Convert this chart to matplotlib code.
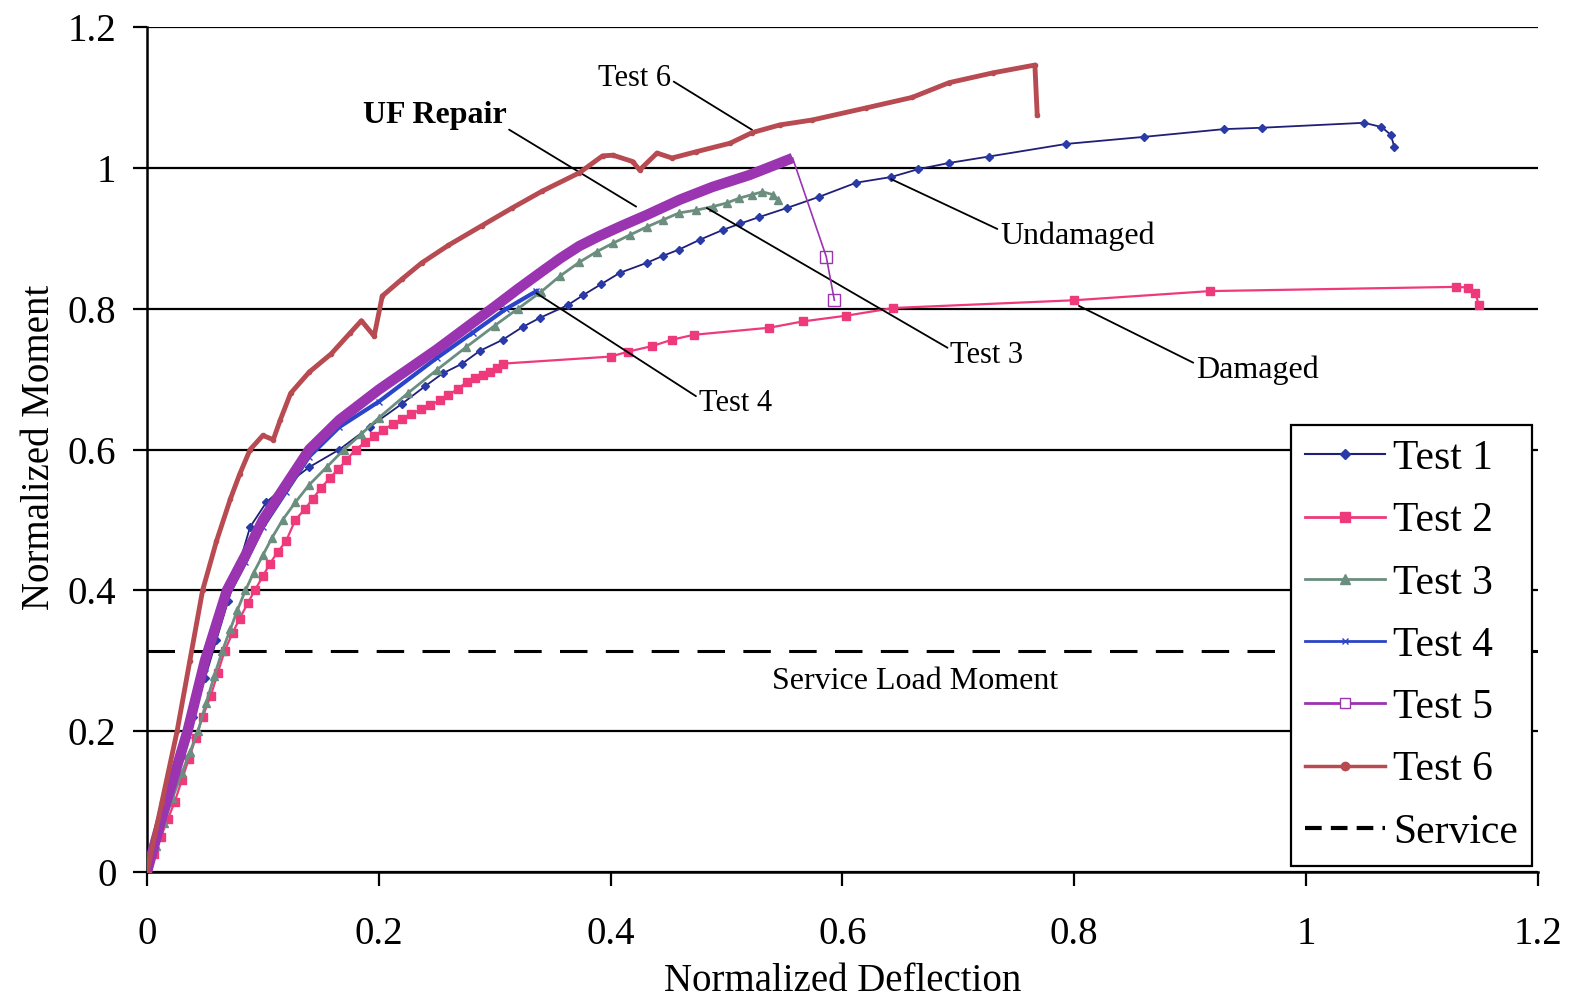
import matplotlib
matplotlib.use('Agg')
import matplotlib.pyplot as plt
from matplotlib.lines import Line2D

plt.rcParams['font.family'] = ['Liberation Serif', 'DejaVu Serif']

# test data (normalized deflection, normalized moment)
test1_x = [0, 0.01, 0.02, 0.03, 0.04, 0.05, 0.06, 0.07, 0.08, 0.089, 0.103, 0.12, 0.14, 0.166,
           0.192, 0.22, 0.24, 0.255, 0.272, 0.287, 0.307, 0.324, 0.339, 0.363, 0.376, 0.392,
           0.408, 0.431, 0.445, 0.459, 0.477, 0.497, 0.512, 0.528, 0.552, 0.58, 0.612, 0.642,
           0.665, 0.692, 0.726, 0.793, 0.86, 0.929, 0.962, 1.05, 1.065, 1.073, 1.076]
test1_y = [0, 0.055, 0.11, 0.165, 0.22, 0.275, 0.33, 0.385, 0.44, 0.49, 0.525, 0.55, 0.575, 0.6,
           0.632, 0.665, 0.69, 0.708, 0.722, 0.74, 0.756, 0.774, 0.787, 0.805, 0.819, 0.835,
           0.851, 0.865, 0.875, 0.884, 0.898, 0.912, 0.921, 0.93, 0.943, 0.959, 0.979, 0.987,
           0.998, 1.007, 1.016, 1.034, 1.044, 1.055, 1.057, 1.064, 1.058, 1.047, 1.03]

test2_x = [0, 0.006, 0.012, 0.018, 0.024, 0.03, 0.036, 0.042, 0.048, 0.055, 0.061, 0.067, 0.074,
           0.08, 0.087, 0.093, 0.1, 0.106, 0.113, 0.12, 0.128, 0.136, 0.143, 0.15, 0.158, 0.165,
           0.172, 0.18, 0.188, 0.196, 0.204, 0.212, 0.22, 0.228, 0.236, 0.244, 0.253, 0.26, 0.268,
           0.276, 0.283, 0.29, 0.296, 0.302, 0.307, 0.4, 0.415, 0.436, 0.453, 0.472, 0.537, 0.566,
           0.603, 0.644, 0.8, 0.917, 1.129, 1.14, 1.146, 1.149]
test2_y = [0, 0.025, 0.05, 0.075, 0.1, 0.13, 0.16, 0.19, 0.22, 0.25, 0.282, 0.314, 0.34,
           0.36, 0.382, 0.4, 0.42, 0.438, 0.455, 0.47, 0.5, 0.515, 0.53, 0.545, 0.56, 0.572,
           0.585, 0.6, 0.61, 0.619, 0.628, 0.636, 0.643, 0.65, 0.657, 0.663, 0.67, 0.677, 0.686,
           0.696, 0.702, 0.706, 0.71, 0.716, 0.722, 0.732, 0.739, 0.747, 0.756, 0.763, 0.773, 0.782,
           0.79, 0.801, 0.812, 0.825, 0.831, 0.83, 0.822, 0.805]

test3_x = [0, 0.008, 0.015, 0.022, 0.03, 0.037, 0.044, 0.051, 0.058, 0.065, 0.072, 0.078, 0.085,
           0.092, 0.1, 0.108, 0.117, 0.128, 0.14, 0.155, 0.17, 0.185, 0.2, 0.225, 0.25, 0.275,
           0.3, 0.32, 0.34, 0.356, 0.373, 0.388, 0.402, 0.417, 0.431, 0.445, 0.459, 0.474, 0.488,
           0.5, 0.511, 0.522, 0.531, 0.54, 0.544]
test3_y = [0, 0.037, 0.07, 0.105, 0.14, 0.17, 0.2, 0.24, 0.278, 0.314, 0.345, 0.372, 0.4,
           0.425, 0.45, 0.475, 0.5, 0.525, 0.55, 0.575, 0.6, 0.622, 0.645, 0.68, 0.713, 0.745,
           0.776, 0.8, 0.824, 0.846, 0.866, 0.881, 0.893, 0.905, 0.916, 0.926, 0.936, 0.94, 0.945,
           0.95, 0.957, 0.962, 0.966, 0.962, 0.955]

test4_x = [0, 0.015, 0.035, 0.05, 0.069, 0.085, 0.1, 0.12, 0.14, 0.166, 0.2, 0.25, 0.281, 0.31, 0.336]
test4_y = [0, 0.085, 0.195, 0.29, 0.39, 0.44, 0.49, 0.54, 0.59, 0.632, 0.668, 0.73, 0.766, 0.8, 0.825]

test5_x = [0, 0.015, 0.035, 0.05, 0.069, 0.085, 0.1, 0.12, 0.14, 0.166, 0.2, 0.25, 0.281,
           0.3, 0.32, 0.34, 0.357, 0.373, 0.39, 0.41, 0.431, 0.46, 0.488, 0.52, 0.557, 0.586, 0.593]
test5_y = [0, 0.09, 0.2, 0.3, 0.4, 0.45, 0.5, 0.55, 0.6, 0.642, 0.685, 0.742, 0.78,
           0.803, 0.828, 0.852, 0.872, 0.889, 0.903, 0.918, 0.933, 0.955, 0.973, 0.99, 1.014, 0.874, 0.812]

test6_x = [0, 0.013, 0.026, 0.037, 0.048, 0.06, 0.072, 0.08, 0.089, 0.1, 0.109, 0.115, 0.124,
           0.14, 0.159, 0.175, 0.185, 0.196, 0.203, 0.22, 0.237, 0.26, 0.289, 0.315, 0.341, 0.373,
           0.393, 0.402, 0.419, 0.425, 0.44, 0.453, 0.474, 0.503, 0.522, 0.546, 0.574, 0.62, 0.66,
           0.692, 0.73, 0.766, 0.768]
test6_y = [0, 0.1, 0.2, 0.3, 0.4, 0.47, 0.53, 0.565, 0.6, 0.62, 0.614, 0.642, 0.68,
           0.71, 0.736, 0.765, 0.783, 0.761, 0.818, 0.842, 0.865, 0.89, 0.918, 0.943, 0.967, 0.993,
           1.017, 1.018, 1.009, 0.997, 1.021, 1.014, 1.023, 1.035, 1.05, 1.061, 1.068, 1.085, 1.1,
           1.121, 1.135, 1.146, 1.075]

service_moment = 0.314

labels = ['Test 1', 'Test 2', 'Test 3', 'Test 4', 'Test 5', 'Test 6', 'Service']

c1_line, c1_mark = '#1f1f78', '#2a3ba8'
c2 = '#ee3a7b'
c3 = '#6b8e7f'
c4 = '#2b45c8'
c5 = '#9a34b0'
c6 = '#b84a52'

fig = plt.figure(figsize=(15.75, 10.05), dpi=100)
ax = fig.add_axes([0.0933, 0.1323, 0.8832, 0.8408])

ax.axhline(service_moment, color='black', lw=2.2, dashes=(9, 6), zorder=1)

ax.plot(test1_x, test1_y, color=c1_line, lw=1.3, marker='D', ms=4.5,
        mfc=c1_mark, mec=c1_mark, zorder=3)
ax.plot(test2_x, test2_y, color=c2, lw=1.6, marker='s', ms=6,
        mfc=c2, mec=c2, zorder=3)
ax.plot(test3_x, test3_y, color=c3, lw=2, marker='^', ms=6,
        mfc=c3, mec=c3, zorder=3)
ax.plot(test4_x, test4_y, color=c4, lw=3, marker='x', ms=4, zorder=3)
ax.plot(test5_x[:-2], test5_y[:-2], color=c5, lw=7.5, solid_capstyle='butt',
        solid_joinstyle='round', zorder=4)
ax.plot(test5_x[-3:], test5_y[-3:], color=c5, lw=1.2, marker='s', ms=8,
        mfc='none', mec=c5, markevery=[1, 2], zorder=4)
ax.plot(test6_x, test6_y, color=c6, lw=3.5, marker='o', ms=3, mfc=c6, mec=c6, zorder=5)

ax.set_xlim(0, 1.2)
ax.set_ylim(0, 1.2)
ax.set_xticks([0, 0.2, 0.4, 0.6, 0.8, 1, 1.2])
ax.set_yticks([0, 0.2, 0.4, 0.6, 0.8, 1, 1.2])
ax.set_xticklabels(['0', '0.2', '0.4', '0.6', '0.8', '1', '1.2'])
ax.set_yticklabels(['0', '0.2', '0.4', '0.6', '0.8', '1', '1.2'])
ax.tick_params(axis='both', direction='out', length=10, width=1.6, labelsize=28, color='black')
ax.tick_params(axis='x', pad=22)
ax.tick_params(axis='y', pad=12)
ax.yaxis.grid(True, color='black', lw=1.6)
ax.set_axisbelow(True)
for side in ['top', 'right']:
    ax.spines[side].set_visible(False)
for side in ['left', 'bottom']:
    ax.spines[side].set_linewidth(1.8)

ax.set_xlabel('Normalized Deflection', fontsize=28)
ax.set_ylabel('Normalized Moment', fontsize=28)
ax.xaxis.set_label_coords(0.5, -0.108)
ax.yaxis.set_label_coords(-0.064, 0.503)

# callouts
lead = dict(arrowstyle='-', color='black', lw=1.3, shrinkA=0, shrinkB=0)
ax.annotate('Test 6', xy=(0.522, 1.054), xytext=(0.452, 1.127), fontsize=22,
            ha='right', va='center', arrowprops=dict(lead, relpos=(1, 0.45)))
ax.annotate('UF Repair', xy=(0.422, 0.945), xytext=(0.248, 1.074), fontsize=23,
            fontweight='bold', ha='center', va='center',
            arrowprops=dict(lead, relpos=(0.96, 0.2)))
ax.annotate('Test 3', xy=(0.483, 0.943), xytext=(0.693, 0.734), fontsize=22,
            ha='left', va='center', arrowprops=dict(lead, relpos=(0, 0.7)))
ax.annotate('Test 4', xy=(0.336, 0.822), xytext=(0.476, 0.665), fontsize=22,
            ha='left', va='center', arrowprops=dict(lead, relpos=(0, 0.7)))
ax.annotate('Undamaged', xy=(0.642, 0.984), xytext=(0.736, 0.903), fontsize=23,
            ha='left', va='center', arrowprops=dict(lead, relpos=(0, 0.7)))
ax.annotate('Damaged', xy=(0.804, 0.804), xytext=(0.905, 0.713), fontsize=23,
            ha='left', va='center', arrowprops=dict(lead, relpos=(0, 0.7)))
ax.text(0.663, 0.271, 'Service Load Moment', fontsize=23, ha='center', va='center')

handles = [
    Line2D([], [], color=c1_line, lw=1.5, marker='D', ms=5, mfc=c1_mark, mec=c1_mark),
    Line2D([], [], color=c2, lw=2, marker='s', ms=7, mfc=c2, mec=c2),
    Line2D([], [], color=c3, lw=2, marker='^', ms=7, mfc=c3, mec=c3),
    Line2D([], [], color=c4, lw=2, marker='x', ms=4, mec=c4),
    Line2D([], [], color=c5, lw=2, marker='s', ms=7, mfc='white', mec=c5),
    Line2D([], [], color=c6, lw=2.5, marker='o', ms=6, mfc=c6, mec=c6),
    Line2D([], [], color='black', lw=3, dashes=(4, 2.2)),
]
leg = ax.legend(handles, labels, loc='lower right', bbox_to_anchor=(0.996, 0.007),
                fontsize=30, frameon=True, fancybox=False, borderaxespad=0,
                handlelength=1.9, handletextpad=0.2, labelspacing=0.57, borderpad=0.35)
leg.get_frame().set_edgecolor('black')
leg.get_frame().set_linewidth(1.6)
leg.get_frame().set_alpha(1)
leg.set_zorder(10)

fig.savefig('out.png', dpi=100)
